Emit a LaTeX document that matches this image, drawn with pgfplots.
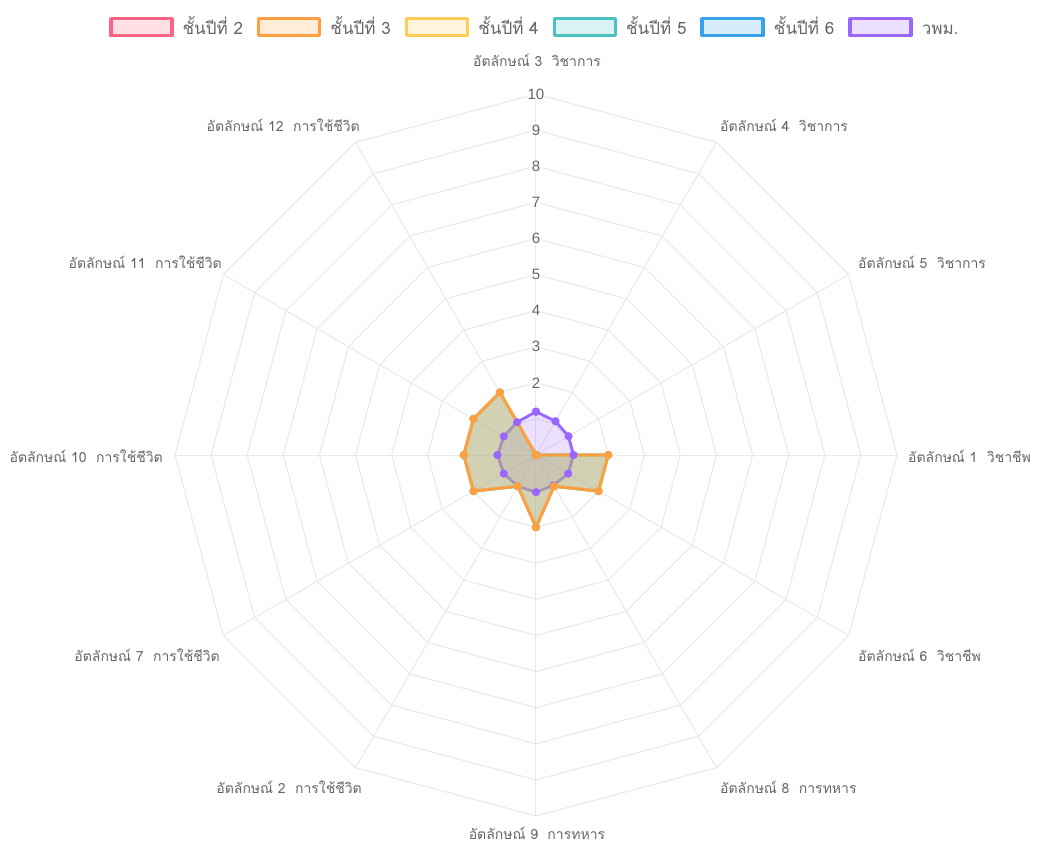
\documentclass[border=0pt]{standalone}
\usepackage{fontspec}
\setmainfont{Liberation Sans}
\newfontfamily\thaifont[Script=Thai]{Loma}
\usepackage{pgfplots}
\pgfplotsset{compat=1.18}
\usepgfplotslibrary{polar}
\definecolor{cpink}{RGB}{255,99,132}
\definecolor{corange}{RGB}{255,159,64}
\definecolor{cyellow}{RGB}{255,205,86}
\definecolor{cteal}{RGB}{75,192,192}
\definecolor{cblue}{RGB}{54,162,235}
\definecolor{cpurple}{RGB}{153,102,255}
\definecolor{gridc}{RGB}{232,232,232}
\definecolor{txtc}{RGB}{102,102,102}
\pgfplotsset{
  series/.style={draw=#1, fill=#1, fill opacity=0.2, draw opacity=1, line width=2.8bp, line join=round,
     mark=*, mark size=3.8bp, mark options={fill=#1, draw=#1, fill opacity=1, line width=0.5bp}},
}
\begin{document}
\begin{tikzpicture}
\begin{polaraxis}[
  hide axis, scale only axis, width=722bp, height=722bp,
  xmin=0, xmax=360, ymin=0, ymax=10, clip=false,
  legend columns=6, reverse legend,
  legend style={at={(0.497,1.092)}, anchor=center, draw=none, fill=none,
    font=\thaifont\fontsize{17bp}{19bp}\selectfont, text=txtc,
    /tikz/every odd column/.append style={column sep=9bp},
    /tikz/every even column/.append style={column sep=14bp},
    nodes={inner sep=0bp, text height=12bp, text depth=4bp}},
  legend image code/.code={\draw[#1, line width=3.5bp] (0bp,-5.5bp) rectangle (61bp,11.5bp);},
]
% grid polygons
\pgfplotsinvokeforeach{1,...,10}{
  \addplot[forget plot, draw=gridc, line width=1bp, no marks, line join=round]
    coordinates {(0,#1)(30,#1)(60,#1)(90,#1)(120,#1)(150,#1)(180,#1)(210,#1)(240,#1)(270,#1)(300,#1)(330,#1)(360,#1)};
}
% spokes
\pgfplotsinvokeforeach{0,30,...,330}{
  \addplot[forget plot, draw=gridc, line width=1bp, no marks] coordinates {(#1,0)(#1,10)};
}
% tick labels
\pgfplotsinvokeforeach{2,...,10}{
  \node[fill=white, fill opacity=0.75, text opacity=1, text=txtc, inner sep=1.5bp,
        font=\fontsize{15bp}{17bp}\selectfont] at (axis cs:90,#1) {#1};
}
\coordinate (O) at (axis cs:0,0);
% datasets, drawn in reverse order (first dataset on top)
\addplot[series=cpurple] coordinates {(90,1.2)(60,1.08)(30,1.04)(0,1.04)(330,1.03)(300,0.97)(270,1.03)(240,1.0)(210,1.03)(180,1.07)(150,1.03)(120,1.05)(90,1.2)};
\addlegendentry{วพม.}
\addplot[series=cblue] coordinates {(90,0)(60,0)(30,0)(0,2)(330,2)(300,1)(270,2)(240,1)(210,2)(180,2)(150,2)(120,2)(90,0)};
\addlegendentry{ชั้นปีที่ 6}
\addplot[series=cteal] coordinates {(90,0)(60,0)(30,0)(0,2)(330,2)(300,1)(270,2)(240,1)(210,2)(180,2)(150,2)(120,2)(90,0)};
\addlegendentry{ชั้นปีที่ 5}
\addplot[series=cyellow] coordinates {(90,0)(60,0)(30,0)(0,2)(330,2)(300,1)(270,2)(240,1)(210,2)(180,2)(150,2)(120,2)(90,0)};
\addlegendentry{ชั้นปีที่ 4}
\addplot[series=corange] coordinates {(90,0)(60,0)(30,0)(0,2)(330,2)(300,1)(270,2)(240,1)(210,2)(180,2)(150,2)(120,2)(90,0)};
\addlegendentry{ชั้นปีที่ 3}
\addlegendimage{series=cpink}
\addlegendentry{ชั้นปีที่ 2}
\end{polaraxis}
\begin{scope}[every node/.style={text=txtc, inner sep=0pt, font=\thaifont\fontsize{14bp}{16bp}\selectfont}]
\node[anchor=center] at ([shift={(1bp,395bp)}]O) {อัตลักษณ์ 3\ \ วิชาการ};
\node[anchor=west] at ([shift={(184bp,330bp)}]O) {อัตลักษณ์ 4\ \ วิชาการ};
\node[anchor=west] at ([shift={(322bp,193bp)}]O) {อัตลักษณ์ 5\ \ วิชาการ};
\node[anchor=west] at ([shift={(372bp,-1bp)}]O) {อัตลักษณ์ 1\ \ วิชาชีพ};
\node[anchor=west] at ([shift={(322bp,-200bp)}]O) {อัตลักษณ์ 6\ \ วิชาชีพ};
\node[anchor=west] at ([shift={(184bp,-332bp)}]O) {อัตลักษณ์ 8\ \ การทหาร};
\node[anchor=center] at ([shift={(1bp,-378bp)}]O) {อัตลักษณ์ 9\ \ การทหาร};
\node[anchor=east] at ([shift={(-174bp,-332bp)}]O) {อัตลักษณ์ 2\ \ การใช้ชีวิต};
\node[anchor=east] at ([shift={(-316bp,-200bp)}]O) {อัตลักษณ์ 7\ \ การใช้ชีวิต};
\node[anchor=east] at ([shift={(-373bp,-1bp)}]O) {อัตลักษณ์ 10\ \ การใช้ชีวิต};
\node[anchor=east] at ([shift={(-314bp,193bp)}]O) {อัตลักษณ์ 11\ \ การใช้ชีวิต};
\node[anchor=east] at ([shift={(-176bp,330bp)}]O) {อัตลักษณ์ 12\ \ การใช้ชีวิต};
\end{scope}
\pgfresetboundingbox
\path ([shift={(-536bp,-392bp)}]O) rectangle ([shift={(503bp,455bp)}]O);
\end{tikzpicture}
\end{document}
